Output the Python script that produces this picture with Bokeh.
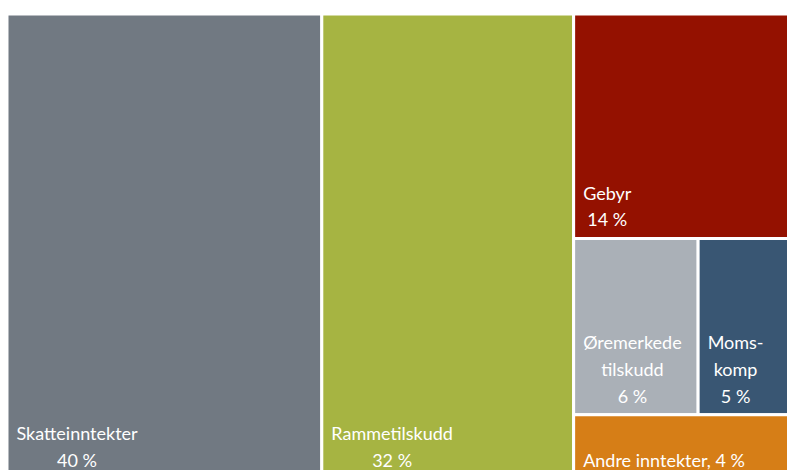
from bokeh.plotting import figure
from bokeh.models import Range1d, ColumnDataSource
from bokeh.core.properties import value
from bokeh.embed import file_html
from bokeh.resources import INLINE

# ---- data ----
names = ["Skatteinntekter", "Rammetilskudd", "Gebyr", "Øremerkede tilskudd", "Momskomp", "Andre inntekter"]
values = [40, 32, 14, 6, 5, 4]
label_lines = ["Skatteinntekter", "Rammetilskudd", "Gebyr", "Øremerkede\ntilskudd", "Moms-\nkomp", "Andre inntekter"]
label_sep = ["\n", "\n", "\n", "\n", "\n", ", "]
colors = ["#717982", "#a6b442", "#941100", "#aab0b7", "#395673", "#d67e17"]

# ---- treemap layout (computed from the values) ----
# Two full-height columns, then a column split into rows: [Gebyr], [Øremerkede, Momskomp], [Andre]
col3 = values[2:]
H = sum(col3)                       # height of the treemap in value units
rows = [[2], [3, 4], [5]]

left, right, bottom, top = [0.0] * 6, [0.0] * 6, [0.0] * 6, [0.0] * 6
x = 0.0
for i in (0, 1):
    left[i], right[i] = x, x + values[i]
    bottom[i], top[i] = 0.0, H
    x += values[i]
col_w = sum(col3)
y = H
for row in rows:
    row_sum = sum(values[i] for i in row)
    row_h = row_sum * H / sum(col3)
    xx = x
    for i in row:
        w = col_w * values[i] / row_sum
        left[i], right[i] = xx, xx + w
        top[i], bottom[i] = y, y - row_h
        xx += w
    y -= row_h

texts = [f"{label_lines[i]}{label_sep[i]}{values[i]} %" for i in range(len(values))]

src = ColumnDataSource(dict(left=left, right=right, bottom=bottom, top=top,
                            color=colors, text=texts, name=names))

# ---- figure / scales ----
W, HPX = 787, 470
PXX, PXY = 7.87, 16.03           # pixels per value unit
x0 = -6.5 / PXX
y1 = H + 13.5 / PXY

p = figure(width=W, height=HPX, output_backend="svg", toolbar_location=None,
           x_range=Range1d(x0, x0 + W / PXX), y_range=Range1d(y1 - HPX / PXY, y1),
           min_border=0, min_border_left=0, min_border_right=0, min_border_top=0, min_border_bottom=0,
           x_axis_location=None, y_axis_location=None)
p.outline_line_color = None
p.grid.visible = False
p.background_fill_color = "white"
p.border_fill_color = "white"

p.quad(left="left", right="right", bottom="bottom", top="top", fill_color="color",
       line_color="white", line_width=3, source=src)

p.text(x="left", y="bottom", text="text", source=src,
       text_color="white", text_font=value("Lato"), text_font_size="18px",
       text_align="center", anchor="bottom_left", text_line_height=1.22,
       x_offset=9.5, y_offset=-8)

open("out.html", "w").write(file_html(p, INLINE))
